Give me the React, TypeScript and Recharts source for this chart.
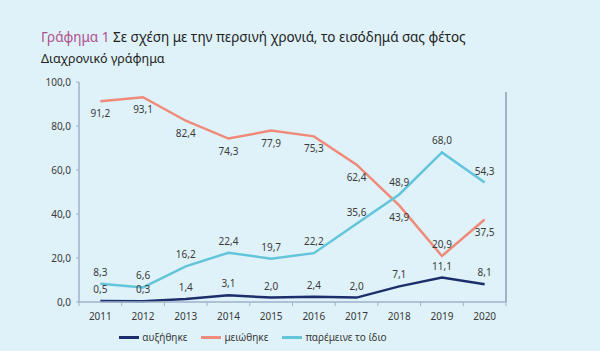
import { LabelList, Legend, Line, LineChart, ReferenceLine, XAxis, YAxis } from "recharts";

const years = [2011, 2012, 2013, 2014, 2015, 2016, 2017, 2018, 2019, 2020];
const increased = [0.5, 0.3, 1.4, 3.1, 2.0, 2.4, 2.0, 7.1, 11.1, 8.1];
const decreased = [91.2, 93.1, 82.4, 74.3, 77.9, 75.3, 62.4, 43.9, 20.9, 37.5];
const unchanged = [8.3, 6.6, 16.2, 22.4, 19.7, 22.2, 35.6, 48.9, 68.0, 54.3];
const yTicks = [0, 20, 40, 60, 80, 100];
const seriesNames = ["αυξήθηκε", "μειώθηκε", "παρέμεινε το ίδιο"];

const data = years.map((year, i) => ({
  year,
  increased: increased[i],
  decreased: decreased[i],
  unchanged: unchanged[i],
}));

// tick marks sit between the years, labels on the years
const xTicks = [...years.map((y) => y - 0.5), years[years.length - 1] + 0.5, ...years];

const navy = "#1d2f6b";
const salmon = "#f08a7a";
const sky = "#62c5da";
const axisColor = "#9fb2c8";
const textColor = "#3a3a3a";
const bg = "#dff2f9";
const font = "'Noto Sans', sans-serif";

const fmt = (v: number) => v.toFixed(1).replace(".", ",");

const YearTick = ({ x, y, payload }: any) => {
  const v = payload.value;
  if (!Number.isInteger(v)) {
    return <line x1={x} x2={x} y1={y} y2={y + 4} stroke={axisColor} strokeWidth={1} />;
  }
  return (
    <text x={x} y={y + 18} textAnchor="middle" fontSize={10} fill={textColor} fontFamily={font}>
      {v}
    </text>
  );
};

const makeLabel = (isBelow: (i: number) => boolean) => (props: any) => {
  const { x, y, value, index } = props;
  const dy = isBelow(index) ? 16 : -8;
  return (
    <text
      key={`lbl-${index}`}
      x={x}
      y={y + dy}
      textAnchor="middle"
      fontSize={10}
      fill={textColor}
      fontFamily={font}
    >
      {fmt(value)}
    </text>
  );
};

const LegendContent = () => {
  const items = [
    { name: seriesNames[0], color: navy },
    { name: seriesNames[1], color: salmon },
    { name: seriesNames[2], color: sky },
  ];
  return (
    <div
      style={{
        display: "flex",
        justifyContent: "center",
        gap: 14,
        height: 14,
        alignItems: "center",
        fontFamily: font,
        fontSize: 10,
        color: textColor,
      }}
    >
      {items.map((it) => (
        <span key={it.name} style={{ display: "flex", alignItems: "center" }}>
          <span style={{ width: 20, height: 3, background: it.color, marginRight: 3 }} />
          {it.name}
        </span>
      ))}
    </div>
  );
};

export default function App() {
  return (
    <div
      style={{
        position: "fixed",
        left: 0,
        top: 0,
        width: 600,
        height: 351,
        background: bg,
        fontFamily: font,
      }}
    >
      <div style={{ position: "absolute", left: 41, top: 28, fontSize: 13.5, color: "#222" }}>
        <span style={{ color: "#b04f8c" }}>Γράφημα 1</span> Σε σχέση με την περσινή χρονιά, το
        εισόδημά σας φέτος
      </div>
      <div style={{ position: "absolute", left: 41, top: 50, fontSize: 12.5, color: "#222" }}>
        Διαχρονικό γράφημα
      </div>
      <div style={{ position: "absolute", left: 0, top: 0 }}>
        <LineChart
          width={600}
          height={351}
          data={data}
          margin={{ top: 82, right: 94, left: 0, bottom: 7 }}
        >
          <XAxis
            dataKey="year"
            type="number"
            domain={[2010.5, 2020.5]}
            ticks={xTicks}
            interval={0}
            tick={<YearTick />}
            tickLine={false}
            tickSize={0}
            tickMargin={0}
            height={28}
            axisLine={{ stroke: axisColor, strokeWidth: 1.5 }}
          />
          <YAxis
            width={79}
            domain={[0, 100]}
            ticks={yTicks}
            tickFormatter={fmt}
            tickSize={3}
            tickMargin={5}
            tickLine={{ stroke: axisColor }}
            axisLine={{ stroke: axisColor, strokeWidth: 1.5 }}
            tick={{ fontSize: 10, fill: textColor, fontFamily: font }}
          />
          <ReferenceLine
            segment={[
              { x: 2020.5, y: 95.5 },
              { x: 2020.5, y: 0 },
            ]}
            stroke={axisColor}
            strokeWidth={2}
          />
          <Legend verticalAlign="bottom" content={<LegendContent />} />
          <Line
            type="linear"
            dataKey="increased"
            name={seriesNames[0]}
            stroke={navy}
            strokeWidth={2.5}
            dot={false}
            isAnimationActive={false}
          >
            <LabelList dataKey="increased" content={makeLabel(() => false)} />
          </Line>
          <Line
            type="linear"
            dataKey="decreased"
            name={seriesNames[1]}
            stroke={salmon}
            strokeWidth={2.5}
            dot={false}
            isAnimationActive={false}
          >
            <LabelList dataKey="decreased" content={makeLabel((i) => years[i] !== 2019)} />
          </Line>
          <Line
            type="linear"
            dataKey="unchanged"
            name={seriesNames[2]}
            stroke={sky}
            strokeWidth={2.5}
            dot={false}
            isAnimationActive={false}
          >
            <LabelList dataKey="unchanged" content={makeLabel(() => false)} />
          </Line>
        </LineChart>
      </div>
    </div>
  );
}
